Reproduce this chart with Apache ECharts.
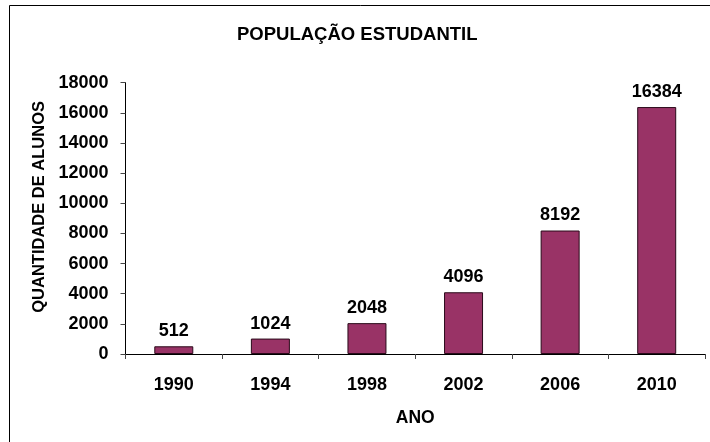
<!DOCTYPE html>
<html>
<head>
<meta charset="utf-8">
<script src="https://cdn.jsdelivr.net/npm/echarts@6/dist/echarts.min.js"></script>
<style>
html,body{margin:0;padding:0;background:#fff;overflow:hidden;}
#chart{width:710px;height:442px;}
</style>
</head>
<body>
<div id="chart"></div>
<script>
var titleText = 'POPULAÇÃO ESTUDANTIL';
var xName = 'ANO';
var yName = 'QUANTIDADE DE ALUNOS';
var categories = ['1990', '1994', '1998', '2002', '2006', '2010'];
var values = [512, 1024, 2048, 4096, 8192, 16384];
var yMin = 0, yMax = 18000, yInterval = 2000;

var FONT = '"Liberation Sans", Arial, sans-serif';
var chart = echarts.init(document.getElementById('chart'), null, {renderer: 'canvas'});
chart.setOption({
  animation: false,
  backgroundColor: '#fff',
  title: {
    text: titleText,
    left: 237,
    top: 26,
    padding: 0,
    textStyle: {fontFamily: FONT, fontWeight: 'bold', fontSize: 18.5, lineHeight: 18.5, color: '#000'}
  },
  graphic: [{
    type: 'rect',
    shape: {x: 9.5, y: 5.5, width: 800, height: 600},
    style: {fill: 'none', stroke: '#000', lineWidth: 1},
    silent: true, z: 100
  }],
  grid: {left: 125.5, right: 5, top: 82.7, bottom: 88, containLabel: false},
  xAxis: {
    type: 'category',
    data: categories,
    name: xName,
    nameLocation: 'middle',
    nameGap: 55,
    nameTextStyle: {fontFamily: FONT, fontWeight: 'bold', fontSize: 17.5, lineHeight: 17.5, color: '#000'},
    axisLine: {lineStyle: {color: '#000', width: 1}},
    axisTick: {show: true, alignWithLabel: false, length: 5, inside: false, lineStyle: {color: '#444'}},
    axisLabel: {fontFamily: FONT, fontWeight: 'bold', fontSize: 18, lineHeight: 18, color: '#000', margin: 22}
  },
  yAxis: {
    type: 'value',
    min: yMin, max: yMax, interval: yInterval,
    name: yName,
    nameLocation: 'middle',
    nameRotate: 90,
    nameGap: 76,
    nameTextStyle: {fontFamily: FONT, fontWeight: 'bold', fontSize: 16.5, lineHeight: 16.5, color: '#000', padding: [0, 0, 0, 23]},
    splitLine: {show: false},
    axisLine: {show: true, lineStyle: {color: '#000', width: 1}},
    axisTick: {show: true, length: 5, lineStyle: {color: '#444'}},
    axisLabel: {
      fontFamily: FONT, fontWeight: 'bold', fontSize: 18, lineHeight: 18, color: '#000', margin: 17,
      formatter: function (v) { return String(v); }
    }
  },
  series: [{
    type: 'bar',
    data: values,
    barWidth: 39,
    itemStyle: {color: '#993366', borderColor: '#2a0a1a', borderWidth: 1},
    label: {
      show: true, position: 'top', distance: 6,
      fontFamily: FONT, fontWeight: 'bold', fontSize: 18, lineHeight: 18, color: '#000'
    }
  }]
});
</script>
</body>
</html>
